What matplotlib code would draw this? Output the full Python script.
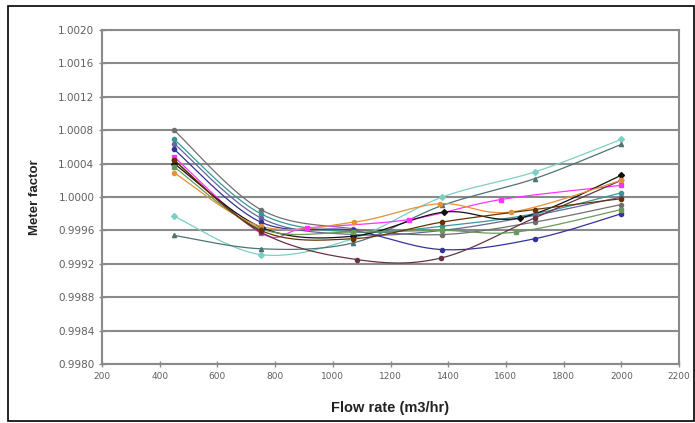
import numpy as np
import matplotlib.pyplot as plt
from matplotlib.patches import Rectangle

plt.rcParams['font.family'] = ['Liberation Sans', 'DejaVu Sans']

# flow rate (m3/hr) and meter factor per run
x_std = [450, 750, 1070, 1380, 1700, 2000]

series = [
    # (x, y, color, marker)
    (x_std, [0.99977, 0.99931, 0.99950, 1.00000, 1.00030, 1.00069], '#7ccfc4', 'D'),
    (x_std, [0.99954, 0.99938, 0.99945, 0.99990, 1.00022, 1.00063], '#4f7373', '^'),
    (x_std, [1.00080, 0.99985, 0.99962, 0.99955, 0.99970, 0.99991], '#707070', 'o'),
    (x_std, [1.00069, 0.99980, 0.99958, 0.99965, 0.99980, 1.00005], '#339999', 'o'),
    (x_std, [1.00064, 0.99975, 0.99955, 0.99960, 0.99978, 1.00000], '#666699', 'o'),
    (x_std, [1.00057, 0.99970, 0.99960, 0.99937, 0.99950, 0.99980], '#333399', 'o'),
    ([450, 750, 910, 1265, 1583, 2000],
     [1.00048, 0.99957, 0.99963, 0.99973, 0.99997, 1.00014], '#ff33ff', 's'),
    ([450, 750, 1085, 1376, 1700, 2000],
     [1.00044, 0.99958, 0.99925, 0.99927, 0.99975, 1.00020], '#663344', 'o'),
    ([450, 756, 1070, 1387, 1650, 2000],
     [1.00040, 0.99963, 0.99953, 0.99982, 0.99975, 1.00026], '#111111', 'D'),
    ([450, 750, 1075, 1370, 1618, 2000],
     [1.00029, 0.99965, 0.99970, 0.99992, 0.99982, 1.00020], '#e69138', 'o'),
    ([450, 750, 1070, 1380, 1636, 2000],
     [1.00036, 0.99962, 0.99958, 0.99960, 0.99958, 0.99985], '#6a9a5a', 's'),
    (x_std, [1.00044, 0.99960, 0.99950, 0.99970, 0.99985, 0.99998], '#663300', 'o'),
]

xlim = (200, 2200)
ylim = (0.9980, 1.0020)


def smooth(xs, ys, n=30):
    # Excel-like smoothed line: Bezier through points, tangents from neighbours
    px = (np.array(xs) - xlim[0]) / (xlim[1] - xlim[0])
    py = (np.array(ys) - ylim[0]) / (ylim[1] - ylim[0]) * 0.6
    pts = np.column_stack([px, py])
    out = []
    for i in range(len(pts) - 1):
        p0 = pts[i - 1] if i > 0 else pts[i]
        p1, p2 = pts[i], pts[i + 1]
        p3 = pts[i + 2] if i + 2 < len(pts) else pts[i + 1]
        c1 = p1 + (p2 - p0) / 6
        c2 = p2 - (p3 - p1) / 6
        t = np.linspace(0, 1, n)[:, None]
        seg = ((1 - t) ** 3) * p1 + 3 * ((1 - t) ** 2) * t * c1 + 3 * (1 - t) * t ** 2 * c2 + t ** 3 * p2
        out.append(seg)
    out = np.vstack(out)
    return (out[:, 0] * (xlim[1] - xlim[0]) + xlim[0],
            out[:, 1] / 0.6 * (ylim[1] - ylim[0]) + ylim[0])


fig = plt.figure(figsize=(6.95, 4.23), dpi=100)
ax = fig.add_axes([102 / 695, 1 - 364 / 423, 577 / 695, 334 / 423])

for xs, ys, c, m in series:
    sx, sy = smooth(xs, ys)
    ax.plot(sx, sy, color=c, lw=0.9, zorder=3)
    ax.plot(xs, ys, ls='none', marker=m, ms=3, color=c, zorder=4)

ax.set_xlim(*xlim)
ax.set_ylim(*ylim)
ax.set_xticks(np.arange(200, 2201, 200))
ax.set_yticks(np.arange(0.9980, 1.00201, 0.0004))
ax.yaxis.set_major_formatter(plt.FormatStrFormatter('%.4f'))
ax.grid(axis='y', color='#8a8a8a', lw=1.5, zorder=1)
for s in ax.spines.values():
    s.set_color('#8a8a8a')
    s.set_linewidth(1.5)
ax.tick_params(direction='inout', length=5, width=1, color='#8a8a8a',
               labelcolor='#606060', pad=3)
for lab in ax.get_xticklabels():
    lab.set_family('DejaVu Sans')
    lab.set_fontsize(6.5)
for lab in ax.get_yticklabels():
    lab.set_family('DejaVu Sans')
    lab.set_fontsize(7.5)

ax.set_xlabel('Flow rate (m3/hr)', fontsize=10.5, fontweight='bold', color='#222222')
ax.set_ylabel('Meter factor', fontsize=9.5, fontweight='bold', color='#222222')
ax.xaxis.label.set_va('center')
ax.yaxis.label.set_va('center')
ax.yaxis.set_label_coords((35 - 102) / 577, 0.5)
ax.xaxis.set_label_coords(0.5, -(408 - 364) / 334)

fig.patches.append(Rectangle((8 / 695, 2 / 423), 686 / 695, 415 / 423,
                             transform=fig.transFigure, fill=False,
                             edgecolor='black', lw=1.2))

fig.savefig('out.png', dpi=100)
